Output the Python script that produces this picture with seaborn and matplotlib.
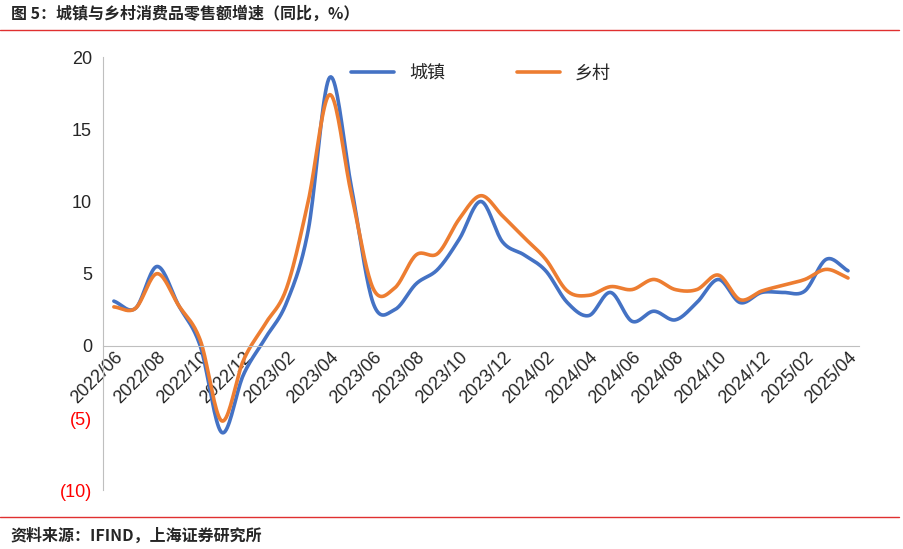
import numpy as np
import pandas as pd
import matplotlib
matplotlib.use("Agg")
import matplotlib.pyplot as plt
import seaborn as sns

# monthly data 2022/06 - 2025/04
months = pd.period_range("2022-06", "2025-04", freq="M").strftime("%Y/%m").tolist()
urban = [3.1, 2.6, 5.5, 2.8, 0.0, -6.0, -2.0, 0.5, 3.0, 8.0, 18.6, 11.0, 3.0, 2.5,
         4.3, 5.3, 7.4, 10.0, 7.2, 6.3, 5.2, 3.0, 2.1, 3.7, 1.7, 2.4, 1.8, 3.0,
         4.6, 3.0, 3.7, 3.7, 3.8, 6.0, 5.2]
rural = [2.7, 2.6, 5.0, 2.8, 0.4, -5.2, -1.0, 1.5, 4.0, 10.0, 17.4, 10.5, 4.0, 4.0,
         6.3, 6.4, 8.8, 10.4, 9.0, 7.5, 6.0, 3.8, 3.5, 4.1, 3.9, 4.6, 3.9, 3.9,
         4.9, 3.2, 3.8, 4.2, 4.6, 5.3, 4.7]
series_names = ["城镇", "乡村"]
colors = ["#4472C4", "#ED7D31"]


def smooth(y, n=20):
    # Catmull-Rom curve through the points, like Excel's smoothed line
    y = np.asarray(y, float)
    x = np.arange(len(y), dtype=float)
    px = np.concatenate([[2 * x[0] - x[1]], x, [2 * x[-1] - x[-2]]])
    py = np.concatenate([[2 * y[0] - y[1]], y, [2 * y[-1] - y[-2]]])
    xs, ys = [], []
    t = np.linspace(0, 1, n, endpoint=False)
    for i in range(1, len(px) - 2):
        for p, out in ((px, xs), (py, ys)):
            p0, p1, p2, p3 = p[i - 1], p[i], p[i + 1], p[i + 2]
            out.extend(0.5 * (2 * p1 + (-p0 + p2) * t + (2 * p0 - 5 * p1 + 4 * p2 - p3) * t ** 2
                              + (-p0 + 3 * p1 - 3 * p2 + p3) * t ** 3))
    xs.append(x[-1]); ys.append(y[-1])
    return np.array(xs), np.array(ys)


sns.set_style("white")
plt.rcParams["font.family"] = ["Noto Sans CJK SC", "DejaVu Sans"]
tick_font = "Liberation Sans"

fig = plt.figure(figsize=(9.04, 5.49), dpi=100)
ax = fig.add_axes([0.114, 0.107, 0.836, 0.789])

frames = []
for name, vals in zip(series_names, [urban, rural]):
    sx, sy = smooth(vals)
    frames.append(pd.DataFrame({"x": sx, "y": sy, "s": name}))
df = pd.concat(frames)
sns.lineplot(data=df, x="x", y="y", hue="s", palette=colors, linewidth=2.6,
             sort=False, estimator=None, ax=ax)

# spine position first: it resets the ticks
for s in ["top", "right"]:
    ax.spines[s].set_visible(False)
ax.spines["bottom"].set_position(("data", 0))
ax.spines["bottom"].set_color("#BFBFBF")
ax.spines["left"].set_color("#BFBFBF")

ax.set_xlim(-0.5, len(months) - 0.5)
ax.set_ylim(-10, 20)
ax.set_xlabel(""); ax.set_ylabel("")
ax.set_yticks([-10, -5, 0, 5, 10, 15, 20])
ax.set_yticklabels(["(10)", "(5)", "0", "5", "10", "15", "20"])
ax.tick_params(axis="y", length=0, pad=8, labelsize=13)

ax.set_xticks(range(0, len(months), 2))
ax.set_xticklabels(months[::2], rotation=45, ha="right", va="top",
                   rotation_mode="anchor", fontsize=13, family=tick_font)
ax.set_xticks(np.arange(-0.5, len(months), 2), minor=True)
ax.tick_params(axis="x", which="major", length=0, pad=2)
ax.tick_params(axis="x", which="minor", length=5, color="#BFBFBF", direction="out")
for lbl in ax.get_yticklabels():
    lbl.set_family(tick_font)
    if lbl.get_text().startswith("("):
        lbl.set_color("#FF0000")

ax.legend(handles=ax.get_lines()[:2], labels=series_names, loc="upper center",
          bbox_to_anchor=(0.5, 1.02), ncol=2, frameon=False, fontsize=13,
          handlelength=2.4, columnspacing=4)

fig.text(0.012, 0.975, "图 5：城镇与乡村消费品零售额增速（同比，%）", fontsize=11.5,
         fontweight="bold", va="center")
fig.add_artist(plt.Line2D([0.0, 0.995], [0.945, 0.945], color="#E03030", lw=1))
fig.add_artist(plt.Line2D([0.0, 0.995], [0.058, 0.058], color="#E03030", lw=1))
fig.text(0.012, 0.025, "资料来源：IFIND，上海证券研究所", fontsize=11.5,
         fontstyle="italic", fontweight="bold", va="center")

fig.savefig("out.png", dpi=100, facecolor="white")
